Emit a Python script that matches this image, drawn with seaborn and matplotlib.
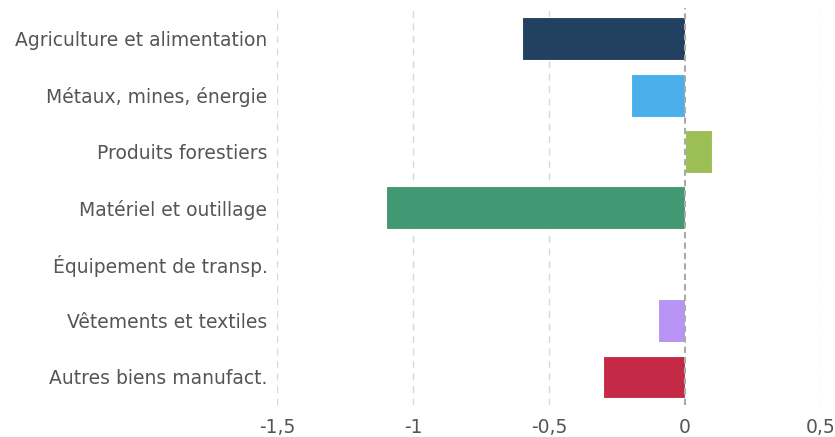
import pandas as pd
import matplotlib
matplotlib.use('Agg')
import matplotlib.pyplot as plt
import seaborn as sns

categories = [
    "Agriculture et alimentation", "Métaux, mines, énergie", "Produits forestiers",
    "Matériel et outillage", "Équipement de transp.", "Vêtements et textiles",
    "Autres biens manufact."
]
values = [-0.6, -0.2, 0.1, -1.1, 0.0, -0.1, -0.3]
colors = ["#22405f", "#4aafeb", "#9bbe55", "#429872", "#f0a030", "#b794f6", "#c42a45"]
xticks = [-1.5, -1, -0.5, 0, 0.5]
xtick_labels = ["-1,5", "-1", "-0,5", "0", "0,5"]

df = pd.DataFrame({'Secteur': categories, 'Valeur': values})

sns.set_style('white')
plt.rcParams['font.family'] = ['DejaVu Sans']

fig = plt.figure(figsize=(8.35, 4.37), dpi=100)
ax = fig.add_axes([0.332, 0.073, 0.651, 0.909])

sns.barplot(data=df, x='Valeur', y='Secteur', hue='Secteur', palette=colors,
            saturation=1, legend=False, width=0.76, edgecolor='white',
            linewidth=0.8, ax=ax, zorder=2)

# dashed vertical grid, darker dashed line at zero
for xv in xticks:
    if xv != 0:
        ax.axvline(xv, color='#d9d9d9', linestyle=(0, (5, 4)), linewidth=1, zorder=0)
ax.axvline(0, color='#aaaaaa', linestyle=(0, (3, 2)), linewidth=1.5, zorder=3)

ax.set_xlim(-1.5, 0.5)
ax.set_ylim(6.5, -0.55)
ax.set_xticks(xticks)
ax.set_xticklabels(xtick_labels)
ax.set_xlabel('')
ax.set_ylabel('')
ax.tick_params(axis='both', length=0, labelsize=13.5, labelcolor='#555555')
ax.tick_params(axis='y', pad=7)
ax.tick_params(axis='x', pad=9)
for s in ax.spines.values():
    s.set_visible(False)

fig.savefig('out.png', dpi=100)
